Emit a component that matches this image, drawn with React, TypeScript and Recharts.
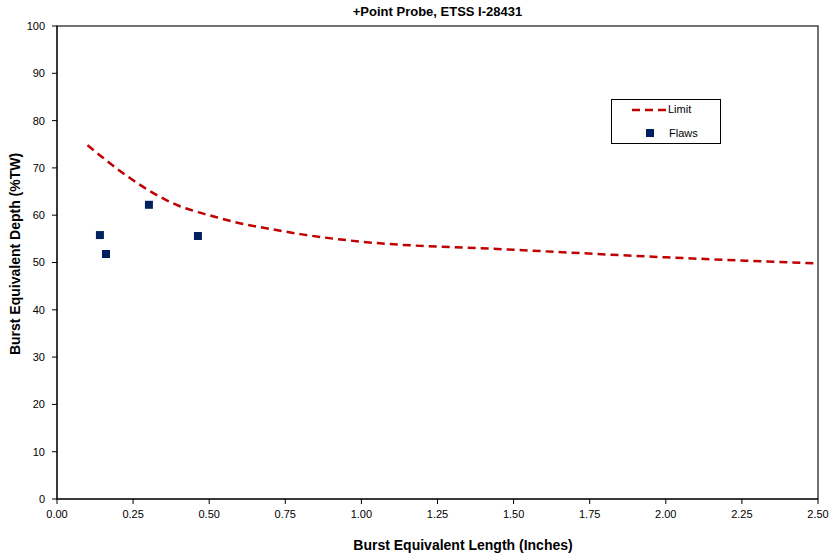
import React from "react";
import {
  ComposedChart,
  Line,
  Scatter,
  XAxis,
  YAxis,
  Legend,
  ReferenceArea,
} from "recharts";

// limit curve
const limitX = [0.1, 0.15, 0.2, 0.25, 0.3, 0.35, 0.4, 0.45, 0.5, 0.6, 0.7, 0.8, 0.9, 1.0, 1.5, 2.0, 2.5];
const limitY = [74.8, 72.2, 69.7, 67.4, 65.3, 63.5, 62.0, 60.9, 60.0, 58.3, 57.1, 56.0, 55.1, 54.4, 52.7, 51.1, 49.8];

// measured flaws
const flawX = [0.141, 0.161, 0.302, 0.463];
const flawY = [55.8, 51.8, 62.2, 55.6];

const xTicks = [0, 0.25, 0.5, 0.75, 1, 1.25, 1.5, 1.75, 2, 2.25, 2.5];
const yTicks = [0, 10, 20, 30, 40, 50, 60, 70, 80, 90, 100];

const limitData = limitX.map((x, i) => ({ x, y: limitY[i] }));
const flawData = flawX.map((x, i) => ({ x, y: flawY[i] }));

const FONT = "'Liberation Sans', Arial, sans-serif";
const RED = "#C00000";
const NAVY = "#002060";

const LegendBox = () => (
  <div
    style={{
      width: 108,
      height: 43,
      border: "1px solid #000",
      background: "#fff",
      fontFamily: FONT,
      fontSize: 11,
      position: "relative",
    }}
  >
    <svg width={40} height={10} style={{ position: "absolute", left: 20, top: 5 }}>
      <line x1={0} y1={5} x2={34} y2={5} stroke={RED} strokeWidth={2.5} strokeDasharray="8 5" />
    </svg>
    <span style={{ position: "absolute", left: 56, top: 3 }}>Limit</span>
    <svg width={10} height={10} style={{ position: "absolute", left: 34, top: 29 }}>
      <rect x={0} y={0} width={8} height={8} fill={NAVY} />
    </svg>
    <span style={{ position: "absolute", left: 57, top: 27 }}>Flaws</span>
  </div>
);

const YTitle = () => {
  const cx = 15;
  const cy = 254;
  return (
    <text
      x={cx}
      y={cy}
      transform={`rotate(-90 ${cx} ${cy})`}
      textAnchor="middle"
      dominantBaseline="central"
      fontFamily={FONT}
      fontSize={14}
      fontWeight="bold"
      fill="#000"
    >
      Burst Equivalent Depth (%TW)
    </text>
  );
};

const XTitle = () => (
  <text
    x={463}
    y={545}
    textAnchor="middle"
    dominantBaseline="central"
    fontFamily={FONT}
    fontSize={14}
    fontWeight="bold"
    fill="#000"
  >
    Burst Equivalent Length (Inches)
  </text>
);

const App = () => {
  const tick = { fontFamily: FONT, fontSize: 11, fill: "#000" };
  return (
    <div style={{ position: "absolute", left: 0, top: 0, width: 831, height: 557, background: "#fff" }}>
      <div
        style={{
          position: "absolute",
          left: 57,
          width: 761,
          top: 4,
          textAlign: "center",
          fontFamily: FONT,
          fontSize: 13,
          fontWeight: "bold",
          zIndex: 2,
        }}
      >
        +Point Probe, ETSS I-28431
      </div>
      <ComposedChart
        width={831}
        height={557}
        margin={{ top: 26, right: 13, left: 0, bottom: 0 }}
      >
        <ReferenceArea x1={0} x2={2.5} y1={0} y2={100} fill="none" stroke="#444" strokeWidth={1.5} />
        <XAxis
          type="number"
          dataKey="x"
          domain={[0, 2.5]}
          ticks={xTicks}
          tickFormatter={(v: number) => v.toFixed(2)}
          tick={tick}
          tickSize={5}
          tickMargin={6}
          height={58}
          stroke="#000"
          allowDataOverflow
          label={{ content: XTitle }}
        />
        <YAxis
          type="number"
          dataKey="y"
          domain={[0, 100]}
          ticks={yTicks}
          tick={tick}
          tickSize={5}
          tickMargin={7}
          width={57}
          stroke="#000"
          label={{ content: YTitle }}
        />
        <Legend
          content={LegendBox}
          layout="vertical"
          verticalAlign="middle"
          align="center"
          wrapperStyle={{ left: 611, top: 99, width: 110 }}
        />
        <Line
          data={limitData}
          dataKey="y"
          name="Limit"
          type="monotone"
          stroke={RED}
          strokeWidth={2.5}
          strokeDasharray="8 5"
          dot={false}
          activeDot={false}
          isAnimationActive={false}
        />
        <Scatter
          data={flawData}
          dataKey="y"
          name="Flaws"
          fill={NAVY}
          shape="square"
          isAnimationActive={false}
        />
      </ComposedChart>
    </div>
  );
};

export default App;
